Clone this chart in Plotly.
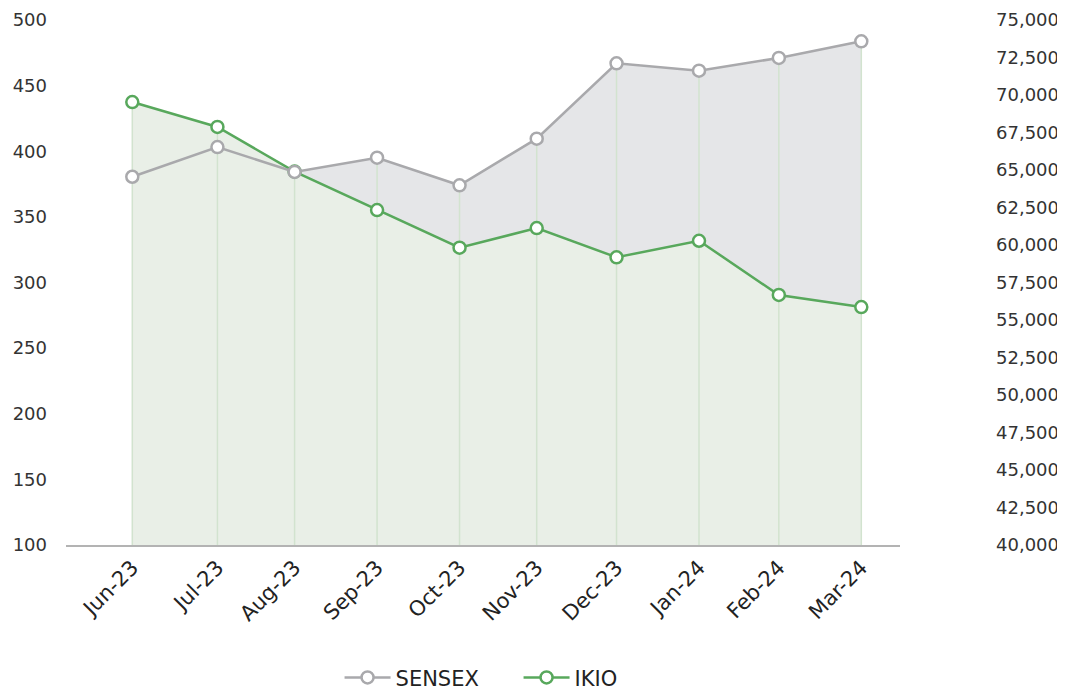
import plotly.graph_objects as go

dates = ["2023-06-28", "2023-07-30", "2023-08-28", "2023-09-28", "2023-10-29",
         "2023-11-27", "2023-12-27", "2024-01-27", "2024-02-26", "2024-03-28"]
labels = ["Jun-23", "Jul-23", "Aug-23", "Sep-23", "Oct-23",
          "Nov-23", "Dec-23", "Jan-24", "Feb-24", "Mar-24"]
sensex = [64550, 66530, 64870, 65820, 63980, 67090, 72110, 71620, 72470, 73580]
ikio = [437.5, 418.5, 384.5, 355.2, 326.5, 341.5, 319.2, 331.8, 290.5, 281.3]

left_range = [100, 500]
right_range = [40000, 75000]

GRAY = "#a9a9ac"
GREEN = "#58a85c"
FONT = "DejaVu Sans"

def to_left(v):
    return left_range[0] + (v - right_range[0]) / (right_range[1] - right_range[0]) * (left_range[1] - left_range[0])

drop_x, drop_y = [], []
for d, s, k in zip(dates, sensex, ikio):
    drop_x += [d, d, None]
    drop_y += [left_range[0], max(k, to_left(s)), None]

fig = go.Figure()
fig.add_trace(go.Scatter(x=dates, y=sensex, yaxis="y", mode="none", fill="tozeroy",
                         fillcolor="#e5e6e8", showlegend=False, hoverinfo="skip"))
fig.add_trace(go.Scatter(x=dates, y=ikio, yaxis="y2", mode="none", fill="tozeroy",
                         fillcolor="#e9efe7", showlegend=False, hoverinfo="skip"))
fig.add_trace(go.Scatter(x=drop_x, y=drop_y, yaxis="y2", mode="lines",
                         line=dict(color="#d2e3cf", width=1.5), showlegend=False, hoverinfo="skip"))
fig.add_trace(go.Scatter(x=dates, y=ikio, yaxis="y3", mode="lines+markers", name="IKIO",
                         line=dict(color=GREEN, width=2.5),
                         marker=dict(size=12, color="white", line=dict(color=GREEN, width=2.5)),
                         legendrank=2))
fig.add_trace(go.Scatter(x=dates, y=sensex, yaxis="y4", mode="lines+markers", name="SENSEX",
                         line=dict(color=GRAY, width=2.5),
                         marker=dict(size=12, color="white", line=dict(color=GRAY, width=2.5)),
                         legendrank=1))

ytickfont = dict(family=FONT, size=18, color="#333333")
xtickfont = dict(family=FONT, size=21, color="#222222")
fig.update_layout(
    width=1057, height=683,
    margin=dict(l=58, r=165, t=12, b=146, autoexpand=False),
    paper_bgcolor="white", plot_bgcolor="white",
    font=dict(family=FONT, color="#333333"),
    showlegend=True,
    legend=dict(orientation="h", x=0.328, xanchor="left", y=-0.253, yanchor="middle",
                font=dict(family=FONT, size=21, color="#222222"), itemwidth=46,
                entrywidth=118, entrywidthmode="pixels", traceorder="normal"),
    xaxis=dict(type="date", range=["2023-06-03 02:00", "2024-04-11 13:00"],
               tickvals=dates, ticktext=labels, tickangle=-45, tickfont=xtickfont,
               showgrid=False, zeroline=False, showline=True, linecolor="#b3b3b3",
               linewidth=2, ticks="", automargin=False),
    yaxis=dict(range=right_range, side="right", tickvals=list(range(40000, 75001, 2500)),
               tickformat=",d", tickfont=ytickfont, showgrid=False, zeroline=False,
               ticks="", ticklabelstandoff=95, showline=False, automargin=False),
    yaxis2=dict(range=left_range, side="left", overlaying="y", tickvals=list(range(100, 501, 50)),
                tickfont=ytickfont, showgrid=False, zeroline=False, ticks="",
                ticklabelstandoff=18, showline=False, automargin=False),
    yaxis3=dict(range=left_range, overlaying="y", visible=False),
    yaxis4=dict(range=right_range, overlaying="y", visible=False),
)

fig.write_html("out.html")
